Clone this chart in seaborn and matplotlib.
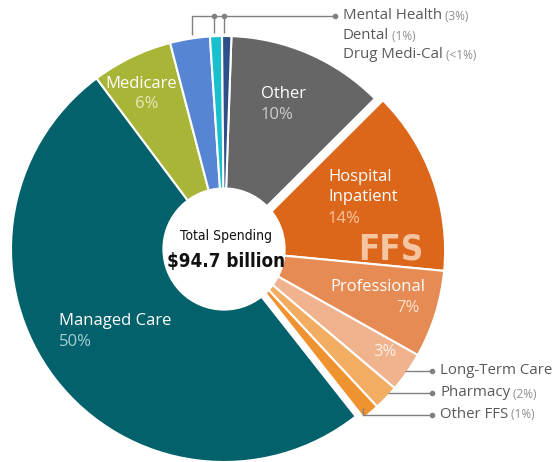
import matplotlib
matplotlib.use("Agg")
import os
import matplotlib.pyplot as plt
import seaborn as sns
from matplotlib import font_manager
from matplotlib.font_manager import FontProperties

# Data, clockwise from 12 o'clock (shares)
categories = ['Other', 'Hospital Inpatient', 'Professional', 'Long-Term Care', 'Pharmacy',
              'Other FFS', 'Managed Care', 'Medicare', 'Mental Health', 'Dental', 'Drug Medi-Cal']
shares = [11.9, 13.9, 6.6, 3.0, 1.9, 1.3, 50.1, 6.1, 3.0, 0.9, 0.7]
pct_labels = ['10%', '14%', '7%', '3%', '2%', '1%', '50%', '6%', '3%', '1%', '<1%']
ffs_group = ['Hospital Inpatient', 'Professional', 'Long-Term Care', 'Pharmacy', 'Other FFS']
slice_colors = ['#666666', '#dc671b', '#e68b53', '#f0b38d', '#f2ad62', '#ee9330',
                '#02616b', '#a9b536', '#5585d3', '#18c0cd', '#2d4f8a']
total_title = 'Total Spending'
total_value = '$94.7 billion'

sns.set_theme(style="white")
plt.rcParams['font.family'] = ['Open Sans', 'DejaVu Sans']

# look for a condensed face for the centre text (falls back to Roboto)
files = {os.path.basename(f.fname): f.fname for f in font_manager.fontManager.ttflist}
def pick(cands, fallback_weight):
    for c in cands:
        if c in files:
            return FontProperties(fname=files[c]), True
    return FontProperties(family='Roboto', weight=fallback_weight), False

cond_reg, has_cond = pick(['LiberationSansNarrow-Regular.ttf', 'DejaVuSansCondensed.ttf'], 'normal')
cond_bold, _ = pick(['LiberationSansNarrow-Bold.ttf', 'DejaVuSansCondensed-Bold.ttf'], 'bold')

fig = plt.figure(figsize=(5.56, 4.62), dpi=100)
ax = fig.add_axes([0, 0, 1, 1])

# pixel -> data helper (pie centre and radius in pixels)
CX, CY, R = 224, 249, 213
def P(x, y):
    return ((x - CX) / R, (CY - y) / R)

wedges, _ = ax.pie(shares, colors=slice_colors, startangle=88, counterclock=False,
                   wedgeprops=dict(edgecolor='white', linewidth=1.5))
# pull the fee-for-service group out as one block
for w, name in zip(wedges, categories):
    if name in ffs_group:
        w.set_center((0.038, -0.008))

ax.add_patch(plt.Circle((0, 0), 0.286, color='white', zorder=3))
ax.set_xlim(-CX / R, (556 - CX) / R)
ax.set_ylim(-(462 - CY) / R, CY / R)
ax.set_aspect('auto')
ax.axis('off')

lab = dict(fontsize=12, color='white', zorder=5)
idx = {n: i for i, n in enumerate(categories)}

def inside(text, x, y, color='white', ha='left'):
    kw = dict(lab)
    kw['color'] = color
    ax.text(*P(x, y), text, ha=ha, va='center', **kw)

inside('Other', 261, 94)
inside(pct_labels[idx['Other']], 261, 115, '#cdcdcd')
inside('Hospital', 328, 177)
inside('Inpatient', 328, 197)
inside(pct_labels[idx['Hospital Inpatient']], 328, 219, '#f6c4a1')
inside('Professional', 330, 287)
inside(pct_labels[idx['Professional']], 420, 308, '#fbe2cf', ha='right')
inside(pct_labels[idx['Long-Term Care']], 385, 352, '#fdf0e6', ha='center')
inside('Medicare', 141, 84, ha='center')
inside(pct_labels[idx['Medicare']], 147, 104, '#e4e9bc', ha='center')
inside('Managed Care', 59, 321)
inside(pct_labels[idx['Managed Care']], 59, 342, '#a6cfd3')

ffs_font = cond_bold.copy()
ffs_font.set_size(25 if has_cond else 21.5)
ax.text(*P(391, 249), 'FFS', ha='center', va='center', fontproperties=ffs_font,
        color='#f5c5a2', zorder=5)

t_font = cond_reg.copy()
t_font.set_size(10 if has_cond else 8.5)
v_font = cond_bold.copy()
v_font.set_size(13.5 if has_cond else 11.5)
ax.text(*P(226, 236), total_title, ha='center', va='center', fontproperties=t_font,
        color='#111111', zorder=5)
ax.text(*P(226, 261), total_value, ha='center', va='center', fontproperties=v_font,
        color='#111111', zorder=5)

# outside labels with leader lines
line_kw = dict(color='#808080', linewidth=1, zorder=4, solid_capstyle='butt')
def leader(xs, ys):
    pts = [P(x, y) for x, y in zip(xs, ys)]
    ax.plot([p[0] for p in pts], [p[1] for p in pts], **line_kw)
    ax.plot(*pts[-1], marker='o', ms=3, color='#808080', zorder=4)

def outside(name, pct, x, y):
    t = ax.text(*P(x, y), name, ha='left', va='center', fontsize=10.8, color='#595959')
    if pct:
        ax.annotate(' (' + pct + ')', xy=(1, 0), xycoords=t, ha='left', va='bottom',
                    fontsize=8.5, color='#8c8c8c')

leader([192, 192, 335], [35, 16, 16])
leader([214, 214], [33, 16])
leader([224, 224], [33, 16])
outside('Mental Health', pct_labels[idx['Mental Health']], 343, 16)
outside('Dental', pct_labels[idx['Dental']], 343, 36)
outside('Drug Medi-Cal', pct_labels[idx['Drug Medi-Cal']], 343, 55)

leader([405, 432], [371, 371])
leader([388, 432], [393, 393])
leader([363, 363, 432], [408, 415, 415])
outside('Long-Term Care', None, 440, 371)
outside('Pharmacy', pct_labels[idx['Pharmacy']], 440, 393)
outside('Other FFS', pct_labels[idx['Other FFS']], 440, 414)

fig.savefig('out.png', dpi=100)
